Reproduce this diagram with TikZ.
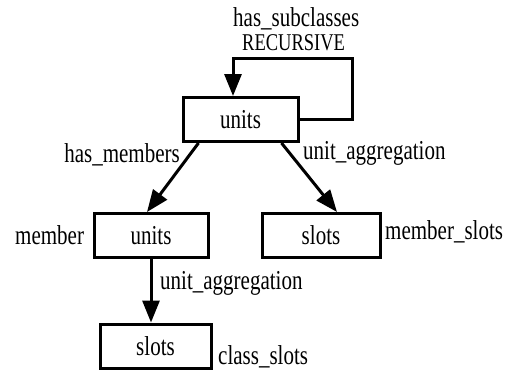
\documentclass[tikz,border=0pt]{standalone}
\usepackage{fontspec}
\setmainfont{Liberation Serif}
\usetikzlibrary{arrows.meta}
\newcommand{\tall}[1]{\scalebox{1}[1.3]{#1}}
\begin{document}
\begin{tikzpicture}[x=1pt,y=-1pt,
  box/.style={draw, line width=3pt, minimum width=#1, minimum height=44pt, inner sep=0pt, font=\fontsize{21}{24}\selectfont},
  lbl/.style={inner sep=0pt, font=\fontsize{21}{24}\selectfont},
  arr/.style={line width=3pt, -{Triangle[length=22pt,width=17pt]}}]
\useasboundingbox (0,0) rectangle (511,370);
% boxes
\node[box=115pt] (top) at (240.5,119.5) {\tall{units}};
\node[box=114pt] (mu) at (151,235.5) {\tall{units}};
\node[box=118pt] (ms) at (321,235.5) {\tall{slots}};
\node[box=111pt] (cs) at (155.5,346) {\tall{slots}};
% loop
\coordinate (lp) at (352,58);
\draw[arr] (top.east) -| (lp) -| ([xshift=-7.5pt]top.north);
% arrows
\draw[arr] ([xshift=17pt]top.south west) -- ([xshift=-4pt]mu.north);
\draw[arr] ([xshift=-18pt]top.south east) -- ([xshift=16pt]ms.north);
\draw[arr] (mu.south) -- (mu.south |- cs.north);
% labels
\node[lbl, anchor=west] (hs) at (233,19) {\tall{has\_subclasses}};
\node[lbl, anchor=west, font=\fontsize{18.5}{22}\selectfont] (rec) at (242,43) {\tall{RECURSIVE}};
\node[lbl, anchor=east] (hm) at (180,155) {\tall{has\_members}};
\node[lbl, anchor=west] (ua1) at (303,153) {\tall{unit\_aggregation}};
\node[lbl, anchor=west] (mem) at (15,235) {\tall{member}};
\node[lbl, anchor=west] (msl) at (385,232) {\tall{member\_slots}};
\node[lbl, anchor=west] (ua2) at (160,283) {\tall{unit\_aggregation}};
\node[lbl, anchor=west] (csl) at (218,357) {\tall{class\_slots}};
\end{tikzpicture}
\end{document}
